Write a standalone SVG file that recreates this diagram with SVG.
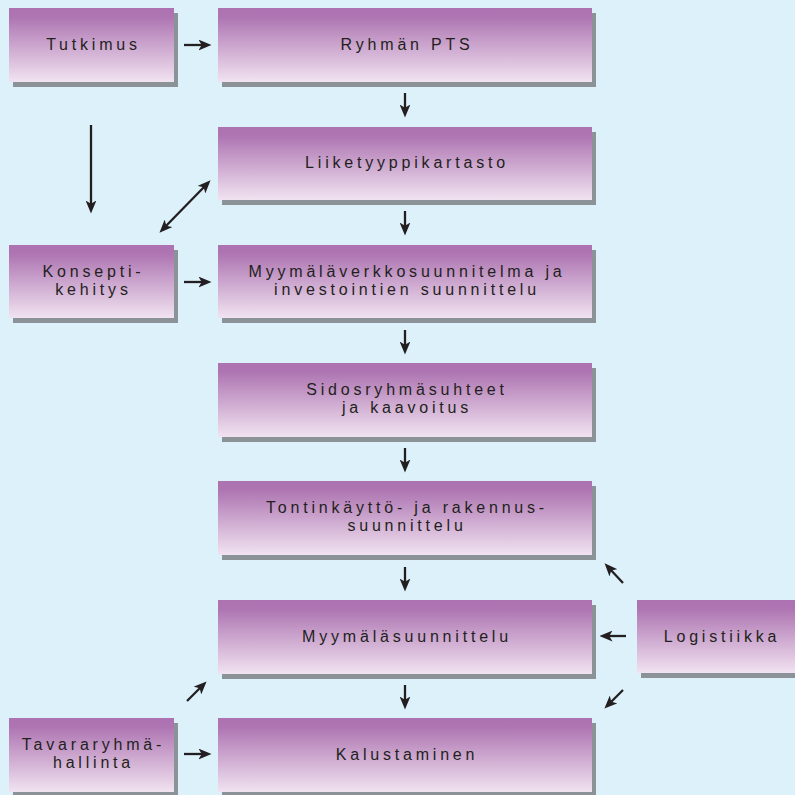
<svg xmlns="http://www.w3.org/2000/svg" width="795" height="795" viewBox="0 0 795 795">
<defs>
<linearGradient id="g" x1="0" y1="0" x2="0" y2="1">
<stop offset="0" stop-color="#ad72b1"/>
<stop offset="0.12" stop-color="#ae75b2"/>
<stop offset="1" stop-color="#f1e3f1"/>
</linearGradient>
<marker id="ah" viewBox="0 0 12 10" refX="6" refY="5" markerWidth="13" markerHeight="11" markerUnits="userSpaceOnUse" orient="auto-start-reverse">
<path d="M0,0 L12,5 L0,10 L3,5 z" fill="#231f20"/>
</marker>
</defs>
<style>
.sh{fill:#8b9398}
.bx{fill:url(#g)}
text{font-family:"Liberation Sans",Arial,sans-serif;font-size:16px;fill:#231f20;letter-spacing:3.8px;text-anchor:middle}
.c line{stroke:#231f20;stroke-width:2.3;fill:none;marker-end:url(#ah)}
</style>
<rect width="795" height="795" fill="#ddf1fb"/>

<g id="tutkimus"><rect class="sh" x="13" y="13" width="165" height="74"/><rect class="bx" x="9" y="8" width="165" height="74"/><text x="93.5" y="50">Tutkimus</text></g>
<g id="ryhman-pts"><rect class="sh" x="222" y="13" width="374" height="74"/><rect class="bx" x="218" y="8" width="374" height="74"/><text x="407" y="50">Ryhmän PTS</text></g>
<g id="liiketyyppikartasto"><rect class="sh" x="222" y="132" width="374" height="73"/><rect class="bx" x="218" y="127" width="374" height="73"/><text x="407" y="168">Liiketyyppikartasto</text></g>
<g id="konseptikehitys"><rect class="sh" x="13" y="250" width="165" height="73"/><rect class="bx" x="9" y="245" width="165" height="73"/><text x="93.5" y="277">Konsepti-</text><text x="93.5" y="295">kehitys</text></g>
<g id="myymalaverkko"><rect class="sh" x="222" y="250" width="374" height="73"/><rect class="bx" x="218" y="245" width="374" height="73"/><text x="407" y="277">Myymäläverkkosuunnitelma ja</text><text x="407" y="295">investointien suunnittelu</text></g>
<g id="sidosryhmasuhteet"><rect class="sh" x="222" y="368" width="374" height="74"/><rect class="bx" x="218" y="363" width="374" height="74"/><text x="407" y="395">Sidosryhmäsuhteet</text><text x="407" y="413">ja kaavoitus</text></g>
<g id="tontinkaytto"><rect class="sh" x="222" y="486" width="374" height="74"/><rect class="bx" x="218" y="481" width="374" height="74"/><text x="407" y="513">Tontinkäyttö- ja rakennus-</text><text x="407" y="531">suunnittelu</text></g>
<g id="myymalasuunnittelu"><rect class="sh" x="222" y="605" width="374" height="74"/><rect class="bx" x="218" y="600" width="374" height="74"/><text x="407" y="642">Myymäläsuunnittelu</text></g>
<g id="logistiikka"><rect class="sh" x="641" y="605" width="160" height="73"/><rect class="bx" x="637" y="600" width="160" height="73"/><text x="722" y="642">Logistiikka</text></g>
<g id="tavararyhmahallinta"><rect class="sh" x="13" y="723" width="165" height="74"/><rect class="bx" x="9" y="718" width="165" height="74"/><text x="93.5" y="750">Tavararyhmä-</text><text x="93.5" y="768">hallinta</text></g>
<g id="kalustaminen"><rect class="sh" x="222" y="723" width="374" height="74"/><rect class="bx" x="218" y="718" width="374" height="74"/><text x="407" y="760">Kalustaminen</text></g>

<g id="connectors" class="c">
<line x1="184" y1="45" x2="205" y2="45"/>
<line x1="405" y1="93" x2="405" y2="111"/>
<line x1="91" y1="125" x2="91" y2="207"/>
<line x1="164" y1="228" x2="206" y2="185" style="marker-start:url(#ah)"/>
<line x1="405" y1="211" x2="405" y2="229"/>
<line x1="184" y1="282" x2="205" y2="282"/>
<line x1="405" y1="330" x2="405" y2="348"/>
<line x1="405" y1="448" x2="405" y2="466"/>
<line x1="405" y1="567" x2="405" y2="585"/>
<line x1="626" y1="636" x2="606" y2="636"/>
<line x1="623" y1="583" x2="609" y2="568"/>
<line x1="405" y1="685" x2="405" y2="703"/>
<line x1="623" y1="690" x2="609" y2="704"/>
<line x1="187" y1="701" x2="202" y2="686"/>
<line x1="184" y1="754" x2="205" y2="754"/>
</g>
</svg>
